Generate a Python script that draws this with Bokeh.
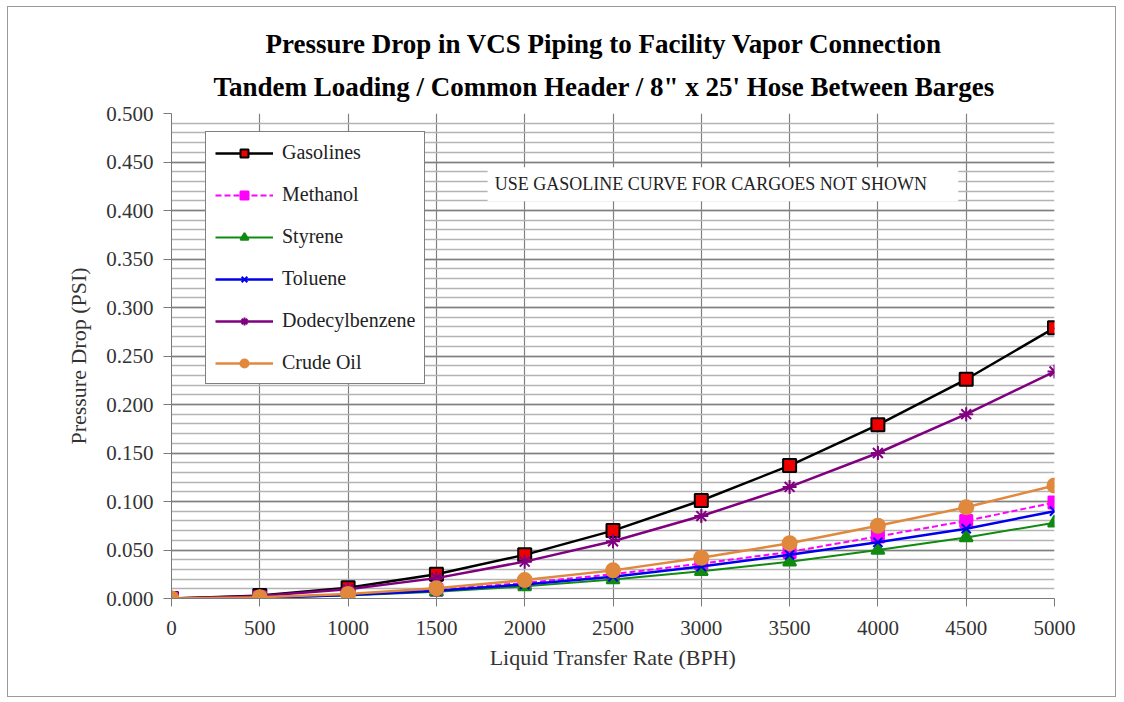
from bokeh.plotting import figure
from bokeh.models import (FixedTicker, NumeralTickFormatter, Legend, LegendItem,
                          BoxAnnotation, Label, Title)
from bokeh.embed import file_html
from bokeh.resources import INLINE

# ---------------- data ----------------
rates = [0, 500, 1000, 1500, 2000, 2500, 3000, 3500, 4000, 4500, 5000]
gasolines = [0.000, 0.003, 0.011, 0.025, 0.045, 0.070, 0.101, 0.137, 0.179, 0.226, 0.279]
methanol = [0.000, 0.001, 0.004, 0.009, 0.016, 0.025, 0.036, 0.048, 0.064, 0.080, 0.099]
styrene = [0.000, 0.0008, 0.003, 0.007, 0.0125, 0.0195, 0.028, 0.038, 0.050, 0.063, 0.078]
toluene = [0.000, 0.0009, 0.0036, 0.008, 0.0145, 0.0225, 0.033, 0.045, 0.058, 0.072, 0.090]
dodecylbenzene = [0.000, 0.0025, 0.0095, 0.021, 0.038, 0.059, 0.085, 0.115, 0.150, 0.190, 0.234]
crude_oil = [0.000, 0.0012, 0.0047, 0.0105, 0.019, 0.029, 0.042, 0.057, 0.075, 0.094, 0.1165]

x_ticks = [0, 500, 1000, 1500, 2000, 2500, 3000, 3500, 4000, 4500, 5000]
y_ticks = [0.0, 0.05, 0.10, 0.15, 0.20, 0.25, 0.30, 0.35, 0.40, 0.45, 0.50]
y_minor = [i / 100 for i in range(0, 51)]

title_1 = "Pressure Drop in VCS Piping to Facility Vapor Connection"
title_2 = "Tandem Loading / Common Header / 8\" x 25' Hose Between Barges"
x_label = "Liquid Transfer Rate (BPH)"
y_label = "Pressure Drop (PSI)"
note_text = "USE GASOLINE CURVE FOR CARGOES NOT SHOWN"
note_box = dict(left=1790, right=4455, top=0.4445, bottom=0.4095)
note_pos = (1830, 0.4275)

FONT = "Liberation Serif"

# ---------------- figure ----------------
p = figure(width=1109, height=691, output_backend="svg", toolbar_location=None,
           x_range=(0, 5000), y_range=(0, 0.5),
           min_border_left=163, min_border_right=63,
           min_border_top=106, min_border_bottom=100,
           background_fill_color="white", border_fill_color="white")
p.styles = {"border": "1px solid #9a9a9a", "margin-left": "7px", "margin-top": "6px"}
p.outline_line_color = None
p.title.text = ""
p.title.visible = False

p.add_layout(Title(text=title_2, align="left", offset=42,
                   text_font=FONT, text_font_size="27px", text_font_style="bold",
                   text_color="black", text_line_height=1.0, standoff=23), "above")
p.add_layout(Title(text=title_1, align="left", offset=94,
                   text_font=FONT, text_font_size="27px", text_font_style="bold",
                   text_color="black", text_line_height=1.0, standoff=0), "above")

# axes
p.xaxis.ticker = FixedTicker(ticks=x_ticks)
p.yaxis.ticker = FixedTicker(ticks=y_ticks, minor_ticks=y_minor)
p.yaxis.formatter = NumeralTickFormatter(format="0.000")
for ax in (p.xaxis[0], p.yaxis[0]):
    ax.axis_line_color = "#7a7a7a"
    ax.major_tick_line_color = "#7a7a7a"
    ax.major_tick_out = 8
    ax.major_tick_in = 0
    ax.minor_tick_line_color = None
    ax.major_label_text_font = FONT
    ax.major_label_text_font_size = "21px"
    ax.major_label_text_color = "#333333"
    ax.axis_label_text_font = FONT
    ax.axis_label_text_font_size = "22px"
    ax.axis_label_text_font_style = "normal"
    ax.axis_label_text_color = "#333333"
p.xaxis.axis_label = x_label
p.yaxis.axis_label = y_label
p.xaxis.major_label_standoff = 14
p.xaxis.axis_label_standoff = 7
p.yaxis.major_label_standoff = 10
p.yaxis.axis_label_standoff = 12

# grid
p.xgrid.grid_line_color = "#808080"
p.xgrid.grid_line_width = 1.2
p.ygrid.grid_line_color = "#808080"
p.ygrid.grid_line_width = 1.4
p.ygrid.minor_grid_line_color = "#b4b4b4"
p.ygrid.minor_grid_line_width = 1.4

# ---------------- series ----------------
specs = [
    ("Gasolines", gasolines, dict(color="black", width=2.5, dash="solid"),
     dict(marker="square", size=13, fill="#ee0000", line="black")),
    ("Methanol", methanol, dict(color="#ff00ff", width=2, dash="6 3"),
     dict(marker="square", size=12, fill="#ff00ff", line="#ff00ff")),
    ("Styrene", styrene, dict(color="#118a11", width=2, dash="solid"),
     dict(marker="triangle", size=13, fill="#118a11", line="#118a11")),
    ("Toluene", toluene, dict(color="#0000ee", width=2.5, dash="solid"),
     dict(marker="x", size=13, fill="#0000ee", line="#0000ee")),
    ("Dodecylbenzene", dodecylbenzene, dict(color="#800080", width=2.5, dash="solid"),
     dict(marker="asterisk", size=14, fill="#800080", line="#800080")),
    ("Crude Oil", crude_oil, dict(color="#e0883c", width=2.5, dash="solid"),
     dict(marker="circle", size=14, fill="#e0883c", line="#e0883c")),
]

items = []
for name, vals, ls, ms in specs:
    lr = p.line(rates, vals, line_color=ls["color"], line_width=ls["width"],
                line_dash=ls["dash"])
    sr = p.scatter(rates, vals, marker=ms["marker"], size=ms["size"],
                   fill_color=ms["fill"], line_color=ms["line"], line_width=2)
    items.append(LegendItem(label=name, renderers=[lr, sr]))

legend = Legend(items=items, location=(34, 214), margin=0, padding=9,
                spacing=19, glyph_width=58, glyph_height=20, label_height=20,
                label_standoff=9, label_text_font=FONT, label_text_font_size="20px",
                label_text_color="#222222",
                border_line_color="black", border_line_width=1,
                background_fill_color="white", background_fill_alpha=1.0)
p.add_layout(legend)

# note box
p.add_layout(BoxAnnotation(left=note_box["left"], right=note_box["right"],
                           top=note_box["top"], bottom=note_box["bottom"],
                           fill_color="white", fill_alpha=1.0, line_color=None))
p.add_layout(Label(x=note_pos[0], y=note_pos[1], text=note_text, text_font=FONT,
                   text_font_size="18px", text_color="#222222",
                   text_baseline="middle", text_align="left"))

open("out.html", "w").write(file_html(p, INLINE))
